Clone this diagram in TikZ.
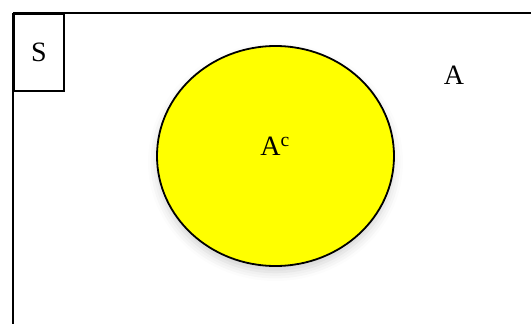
\documentclass[tikz,border=0pt]{standalone}
\usepackage{fontspec}
\setmainfont{Liberation Serif}
\usetikzlibrary{shadows.blur}
\definecolor{pureyellow}{RGB}{255,255,0}
\begin{document}
\begin{tikzpicture}[x=1pt,y=-1pt,
  frame/.style={draw=black,line width=2.2pt},
  sbox/.style={draw=black,line width=1.8pt,minimum width=50pt,minimum height=77pt,inner sep=0pt,font=\fontsize{28}{30}\selectfont},
  setellipse/.style={draw=black,line width=1.8pt,fill=pureyellow,blur shadow={shadow xshift=0pt,shadow yshift=-6pt,shadow blur radius=9pt,shadow opacity=18}},
  lbl/.style={font=\fontsize{28}{30}\selectfont,inner sep=0pt}]
\useasboundingbox (0,0) rectangle (531,324);
\begin{scope}
\clip (0,0) rectangle (531,324);
\draw[frame] (13,13) -- (545,13) (13,13) -- (13,340);
\end{scope}
\node[sbox,anchor=north west] (s) at (13,13) {S};
\draw[setellipse] (275.5,156) ellipse [x radius=118.5, y radius=110];
\node[lbl] (a) at (454,75) {A};
\node[lbl] (ac) at (275,146) {A\textsuperscript{c}};
\end{tikzpicture}
\end{document}
